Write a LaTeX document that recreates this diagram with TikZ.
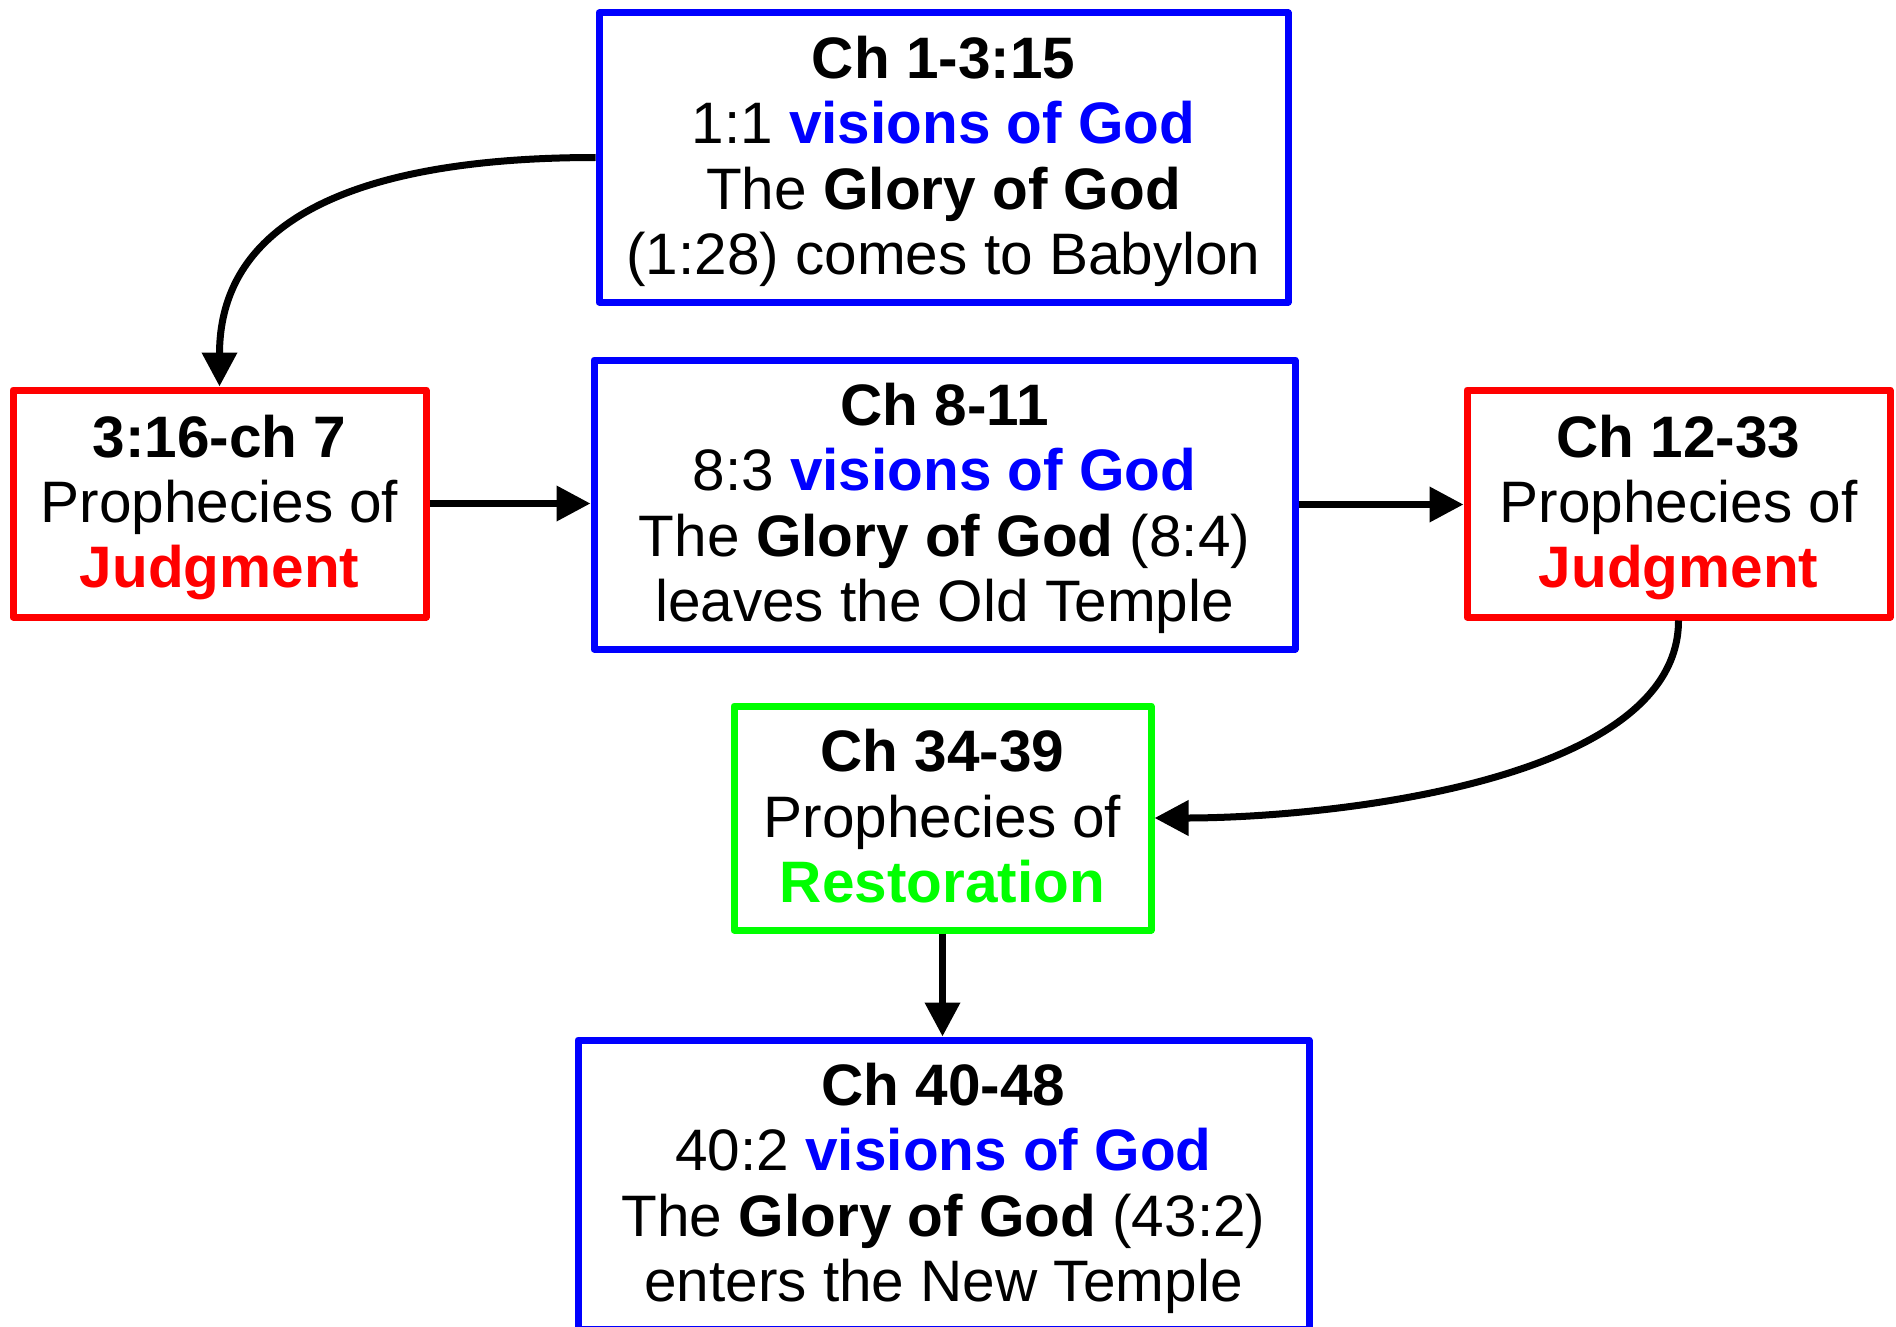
\documentclass[tikz,border=0pt]{standalone}
\usepackage{fontspec}
\setmainfont{Liberation Sans}
\usetikzlibrary{arrows.meta}
\definecolor{pblue}{RGB}{0,0,255}
\definecolor{pred}{RGB}{255,0,0}
\definecolor{pgreen}{RGB}{0,255,0}
\newcommand\mytop{\rule{0pt}{50pt}}
\newcommand\mybot{\rule[-12pt]{0pt}{12pt}}
\begin{document}
\begin{tikzpicture}[x=1pt,y=-1pt,
 box/.style={draw, line width=7pt, rectangle, inner sep=0pt, align=center,
   font=\fontsize{58.5}{65.3}\selectfont, line join=round},
 bluebox/.style={box, draw=pblue},
 redbox/.style={box, draw=pred},
 greenbox/.style={box, draw=pgreen},
 conn/.style={line width=7pt, -{Triangle[length=34pt,width=34pt]}}
]
\useasboundingbox (0,0) rectangle (1896,1327);

\node[bluebox, minimum width=689pt, minimum height=289pt] (top) at (943.5,157.5)
 {\mytop\textbf{Ch 1-3:15}\\1:1 \textcolor{pblue}{\textbf{visions of God}}\\The \textbf{Glory of God}\\(1:28) comes to Babylon\mybot};

\node[bluebox, minimum width=701pt, minimum height=289pt] (mid) at (944.5,504.5)
 {\mytop\textbf{Ch 8-11}\\8:3 \textcolor{pblue}{\textbf{visions of God}}\\The \textbf{Glory of God} (8:4)\\leaves the Old Temple\mybot};

\node[redbox, minimum width=413pt, minimum height=227pt] (lr) at (219.5,503.5)
 {\mytop\textbf{3:16-ch 7}\\Prophecies of\\\textcolor{pred}{\textbf{Judgment}}\mybot};

\node[redbox, minimum width=423pt, minimum height=227pt] (rr) at (1678.5,503.5)
 {\mytop\textbf{Ch 12-33}\\Prophecies of\\\textcolor{pred}{\textbf{Judgment}}\mybot};

\node[greenbox, minimum width=417pt, minimum height=224pt] (grn) at (942.5,818)
 {\mytop\textbf{Ch 34-39}\\Prophecies of\\\textcolor{pgreen}{\textbf{Restoration}}\mybot};

\node[bluebox, minimum width=731pt, minimum height=289pt] (bot) at (943.5,1184.5)
 {\mytop\textbf{Ch 40-48}\\40:2 \textcolor{pblue}{\textbf{visions of God}}\\The \textbf{Glory of God} (43:2)\\enters the New Temple\mybot};

\draw[conn] (top.west) to[out=180,in=90,looseness=1.1] (lr.north);
\draw[conn] (lr.east) -- (lr.east -| mid.west);
\draw[conn] (mid.east) -- (mid.east -| rr.west);
\draw[conn] (rr.south) to[out=-90,in=0,looseness=0.75] (grn.east);
\draw[conn] (grn.south) -- (grn.south |- bot.north);
\end{tikzpicture}
\end{document}
